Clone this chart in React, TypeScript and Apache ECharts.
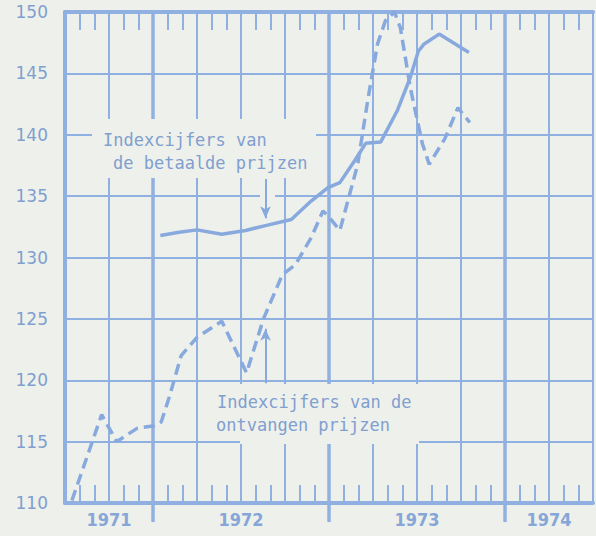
import React, { useEffect, useRef } from "react";
import * as echarts from "echarts";

// x values: months counted from 1 July 1971
const paidMonths = [6.5, 7.78, 9.0, 10.69, 12.31, 13.67, 15.43, 16.78, 17.93, 18.74, 19.76, 20.5, 21.52, 22.67, 23.55, 24.09, 24.49, 25.51, 27.54];
const paidIndex = [131.8, 132.05, 132.25, 131.9, 132.2, 132.6, 133.1, 134.6, 135.7, 136.1, 137.9, 139.3, 139.4, 142.0, 144.7, 146.8, 147.4, 148.2, 146.7];

const receivedMonths = [0.47, 2.5, 3.52, 4.94, 6.09, 6.56, 7.1, 7.92, 9.0, 10.69, 12.38, 13.53, 14.82, 15.7, 16.78, 17.59, 18.0, 18.74, 19.96, 20.64, 21.31, 21.85, 22.46, 22.87, 23.55, 24.36, 24.83, 25.91, 26.79, 27.6];
const receivedIndex = [110.2, 117.2, 115.0, 116.1, 116.3, 116.6, 118.6, 122.0, 123.5, 124.8, 120.6, 125.0, 128.6, 129.4, 131.6, 133.8, 133.3, 132.2, 137.6, 142.8, 147.4, 149.3, 150.0, 148.7, 143.8, 139.3, 137.6, 139.7, 142.2, 141.0];

const yearLabels = ["1971", "1972", "1973", "1974"];
const yearLabelMonths = [3, 12, 24, 33];
const monthCount = 36;
const yMin = 110;
const yMax = 150;
const yStep = 5;

const paidLabel = ["Indexcijfers van", "de betaalde prijzen"];
const receivedLabel = ["Indexcijfers van de", "ontvangen prijzen"];

const BG = "#eef0eb";
const GRID = "#8fb0e0";
const INK = "#809fcf";
const LINE = "#88a9de";

export default function App() {
  const ref = useRef<HTMLDivElement>(null);
  useEffect(() => {
    const chart = echarts.init(ref.current!, null, { renderer: "svg" });
    const catData = Array.from({ length: monthCount + 1 }, (_, i) => {
      const k = yearLabelMonths.indexOf(i);
      return k >= 0 ? yearLabels[k] : "";
    });
    const isYearBoundary = (i: number) => i % 12 === 6;
    const mono = "'DejaVu Sans Mono', 'Liberation Mono', monospace";
    const textStyle = { fill: INK, fontSize: 17, fontFamily: mono, verticalAlign: "middle" as const };
    const option: any = {
      animation: false,
      backgroundColor: BG,
      grid: { left: 65, top: 12, width: 532, height: 491 },
      yAxis: {
        type: "value",
        min: yMin,
        max: yMax,
        interval: yStep,
        axisLine: { show: true, lineStyle: { color: GRID, width: 4 } },
        axisTick: { show: false },
        axisLabel: { color: INK, fontSize: 17, fontFamily: "'DejaVu Sans', sans-serif", margin: 17 },
        splitLine: { show: true, lineStyle: { color: GRID, width: 2 } },
      },
      xAxis: [
        {
          type: "value",
          min: 0,
          max: monthCount,
          interval: 1,
          position: "bottom",
          axisLine: { show: true, onZero: false, lineStyle: { color: GRID, width: 4 } },
          axisTick: { show: true, inside: true, length: 18, lineStyle: { color: GRID, width: 2 } },
          axisLabel: { show: false },
          splitLine: { show: false },
        },
        {
          type: "value",
          min: 0,
          max: monthCount,
          interval: 1,
          position: "top",
          axisLine: { show: true, onZero: false, lineStyle: { color: GRID, width: 4 } },
          axisTick: { show: true, inside: true, length: 18, lineStyle: { color: GRID, width: 2 } },
          axisLabel: { show: false },
          splitLine: { show: false },
        },
        {
          type: "value",
          min: 0,
          max: monthCount,
          interval: 3,
          position: "bottom",
          axisLine: { show: false, onZero: false },
          axisTick: { show: false },
          axisLabel: { show: false },
          splitLine: { show: true, lineStyle: { color: GRID, width: 2 } },
        },
        {
          type: "category",
          boundaryGap: false,
          data: catData,
          position: "bottom",
          axisLine: { show: false, onZero: false },
          axisTick: { show: true, inside: false, length: 19, interval: isYearBoundary, lineStyle: { color: GRID, width: 3.5 } },
          axisLabel: {
            interval: 0,
            color: "#86a6d8",
            fontSize: 18,
            fontWeight: "bold",
            fontFamily: "'DejaVu Sans Condensed', sans-serif",
            margin: 7,
          },
          splitLine: { show: true, interval: isYearBoundary, lineStyle: { color: GRID, width: 3.5 } },
        },
      ],
      series: [
        {
          type: "line",
          name: "betaalde prijzen",
          xAxisIndex: 0,
          data: paidMonths.map((m, i) => [m, paidIndex[i]]),
          symbol: "none",
          z: 3,
          lineStyle: { color: LINE, width: 3.5 },
          markLine: {
            silent: true,
            symbol: ["none", "arrow"],
            symbolSize: [8, 12],
            label: { show: false },
            lineStyle: { color: LINE, width: 2, type: "solid" },
            data: [[{ coord: [13.67, 136.4] }, { coord: [13.67, 133.2] }]],
          },
        },
        {
          type: "line",
          name: "ontvangen prijzen",
          xAxisIndex: 0,
          data: receivedMonths.map((m, i) => [m, receivedIndex[i]]),
          symbol: "none",
          z: 3,
          lineStyle: { color: LINE, width: 3.5, type: [11, 6] },
          markLine: {
            silent: true,
            symbol: ["none", "arrow"],
            symbolSize: [8, 12],
            label: { show: false },
            lineStyle: { color: LINE, width: 2, type: "solid" },
            data: [[{ coord: [13.67, 119.75] }, { coord: [13.67, 124.2] }]],
          },
        },
      ],
      graphic: [
        { type: "rect", z: 1, shape: { x: 92, y: 119, width: 224, height: 59 }, style: { fill: BG } },
        { type: "rect", z: 1, shape: { x: 260, y: 190, width: 15, height: 11 }, style: { fill: BG } },
        { type: "rect", z: 1, shape: { x: 240, y: 384, width: 179, height: 60 }, style: { fill: BG } },
        { type: "text", z: 4, x: 103, y: 140, style: { ...textStyle, text: paidLabel[0] } },
        { type: "text", z: 4, x: 113, y: 163, style: { ...textStyle, text: paidLabel[1] } },
        { type: "text", z: 4, x: 217, y: 402, style: { ...textStyle, text: receivedLabel[0] } },
        { type: "text", z: 4, x: 216, y: 425, style: { ...textStyle, text: receivedLabel[1] } },
      ],
    };
    chart.setOption(option);
    return () => chart.dispose();
  }, []);
  return <div ref={ref} style={{ position: "absolute", left: 0, top: 0, width: 596, height: 536 }} />;
}
